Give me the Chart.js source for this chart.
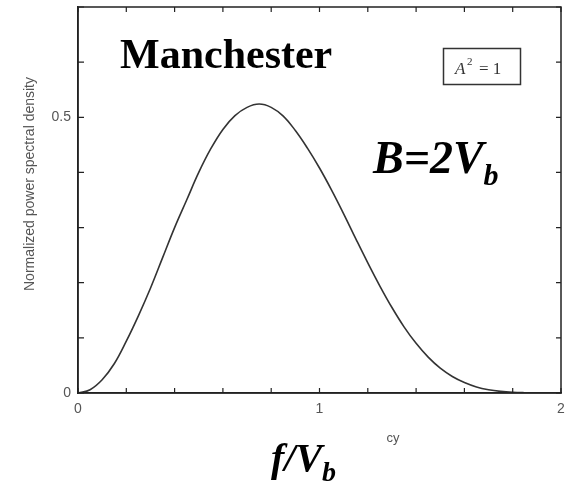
<!DOCTYPE html>
<html>
<head>
<meta charset="utf-8">
<script src="https://cdn.jsdelivr.net/npm/chart.js@4.4.1/dist/chart.umd.min.js"></script>
<style>
  html, body { margin: 0; padding: 0; background: #fff; }
  #wrap { width: 575px; height: 482px; position: relative; }
</style>
</head>
<body>
<div id="wrap"><canvas id="psd-chart"></canvas></div>
<script>
// Normalized frequency f/Vb (every 0.05)
const freq = [0, 0.05, 0.1, 0.15, 0.2, 0.25, 0.3, 0.35, 0.4, 0.45,
    0.5, 0.55, 0.6, 0.65, 0.7, 0.75, 0.8, 0.85, 0.9, 0.95,
    1.0, 1.05, 1.1, 1.15, 1.2, 1.25, 1.3, 1.35, 1.4, 1.45,
    1.5, 1.55, 1.6, 1.65, 1.7, 1.75, 1.8, 1.85, 1.9, 1.95, 2.0];

// Normalized power spectral density, estimated from the curve
const psd = [0, 0.006, 0.024, 0.053, 0.094, 0.14, 0.19, 0.245, 0.30, 0.35,
    0.40, 0.443, 0.478, 0.503, 0.518, 0.524, 0.518, 0.502, 0.476, 0.444,
    0.408, 0.368, 0.325, 0.28, 0.236, 0.194, 0.155, 0.12, 0.09, 0.065,
    0.045, 0.03, 0.019, 0.011, 0.006, 0.003, 0.0013, 0.0005, 0.0001, 0, 0];

// Tick values that carry a label
const xTickLabels = [0, 1, 2];
const yTickLabels = [0, 0.5];

const axisColor = '#222';
const labelColor = '#555';

function isLabeled(list, v) {
    return list.some(t => Math.abs(t - v) < 1e-6);
}

// Inward tick marks on all four sides plus the closing frame
const frameTicks = {
    id: 'frameTicks',
    afterDatasetsDraw(chart) {
        const { ctx, chartArea: a, scales: { x, y } } = chart;
        ctx.save();
        ctx.strokeStyle = axisColor;
        ctx.lineWidth = 1.5;
        ctx.strokeRect(a.left, a.top, a.right - a.left, a.bottom - a.top);
        ctx.lineWidth = 1.2;
        ctx.beginPath();
        x.ticks.forEach(t => {
            const px = x.getPixelForValue(t.value);
            ctx.moveTo(px, a.bottom); ctx.lineTo(px, a.bottom - 5);
            ctx.moveTo(px, a.top); ctx.lineTo(px, a.top + 5);
        });
        y.ticks.forEach(t => {
            const py = y.getPixelForValue(t.value);
            ctx.moveTo(a.left, py); ctx.lineTo(a.left + 6, py);
            ctx.moveTo(a.right, py); ctx.lineTo(a.right - 5, py);
        });
        ctx.stroke();
        ctx.restore();
    }
};

// Titles and annotations
const annotations = {
    id: 'annotations',
    afterDraw(chart) {
        const ctx = chart.ctx;
        ctx.save();

        // y title
        ctx.fillStyle = labelColor;
        ctx.font = '14px "Liberation Sans"';
        ctx.textAlign = 'center';
        ctx.textBaseline = 'middle';
        ctx.translate(30, 184);
        ctx.rotate(-Math.PI / 2);
        ctx.fillText('Normalized power spectral density', 0, 0);
        ctx.setTransform(1, 0, 0, 1, 0, 0);

        // unit
        ctx.font = '13px "Liberation Sans"';
        ctx.fillText('cy', 393, 438);

        // big labels
        ctx.fillStyle = '#000';
        ctx.textAlign = 'left';
        ctx.textBaseline = 'alphabetic';
        ctx.font = 'bold 42px "Liberation Serif"';
        ctx.fillText('Manchester', 120, 68);

        ctx.font = 'italic bold 46px "Liberation Serif"';
        ctx.fillText('B=2V', 373, 173);
        let w = ctx.measureText('B=2V').width;
        ctx.font = 'italic bold 30px "Liberation Serif"';
        ctx.fillText('b', 373 + w, 185);

        ctx.font = 'italic bold 40px "Liberation Serif"';
        ctx.fillText('f/V', 271, 471);
        w = ctx.measureText('f/V').width;
        ctx.font = 'italic bold 28px "Liberation Serif"';
        ctx.fillText('b', 271 + w, 481);

        // A^2 = 1 box
        ctx.strokeStyle = '#333';
        ctx.lineWidth = 1.5;
        ctx.strokeRect(443.5, 48.5, 77, 36);
        ctx.fillStyle = '#333';
        ctx.font = 'italic 17px "Liberation Serif"';
        ctx.fillText('A', 455, 74);
        ctx.font = '11px "Liberation Serif"';
        ctx.fillText('2', 467, 65);
        ctx.font = '17px "Liberation Serif"';
        ctx.fillText('= 1', 479, 74);

        ctx.restore();
    }
};

function initChart() {
    const canvas = document.getElementById('psd-chart');
    new Chart(canvas, {
        type: 'line',
        data: {
            datasets: [{
                data: freq.map((f, i) => ({ x: f, y: psd[i] })),
                borderColor: '#333',
                borderWidth: 1.6,
                pointRadius: 0,
                fill: false,
                tension: 0.4
            }]
        },
        options: {
            responsive: true,
            maintainAspectRatio: false,
            animation: false,
            layout: { padding: { top: 7, right: 14, left: 0, bottom: 0 } },
            plugins: { legend: { display: false }, tooltip: { enabled: false } },
            scales: {
                x: {
                    type: 'linear',
                    min: 0,
                    max: 2,
                    grid: { display: true, drawOnChartArea: false, drawTicks: false },
                    border: { display: true, color: axisColor, width: 1.5 },
                    ticks: {
                        stepSize: 0.2,
                        padding: 8,
                        maxRotation: 0,
                        autoSkip: false,
                        color: labelColor,
                        font: { family: 'Liberation Sans', size: 14 },
                        callback: v => isLabeled(xTickLabels, v) ? String(Math.round(v)) : ''
                    },
                    afterFit(scale) {
                        scale.height = 89;
                        scale.paddingLeft = 0;
                        scale.paddingRight = 0;
                    }
                },
                y: {
                    type: 'linear',
                    min: 0,
                    max: 0.7,
                    grid: { display: true, drawOnChartArea: false, drawTicks: false },
                    border: { display: true, color: axisColor, width: 1.5 },
                    ticks: {
                        stepSize: 0.1,
                        padding: 7,
                        autoSkip: false,
                        color: labelColor,
                        font: { family: 'Liberation Sans', size: 14 },
                        callback: v => isLabeled(yTickLabels, v) ? (Math.abs(v) < 1e-6 ? '0' : v.toFixed(1)) : ''
                    },
                    afterFit(scale) {
                        scale.width = 78;
                        scale.paddingTop = 0;
                        scale.paddingBottom = 0;
                    }
                }
            }
        },
        plugins: [frameTicks, annotations]
    });
}

document.addEventListener('DOMContentLoaded', initChart);
</script>
</body>
</html>
